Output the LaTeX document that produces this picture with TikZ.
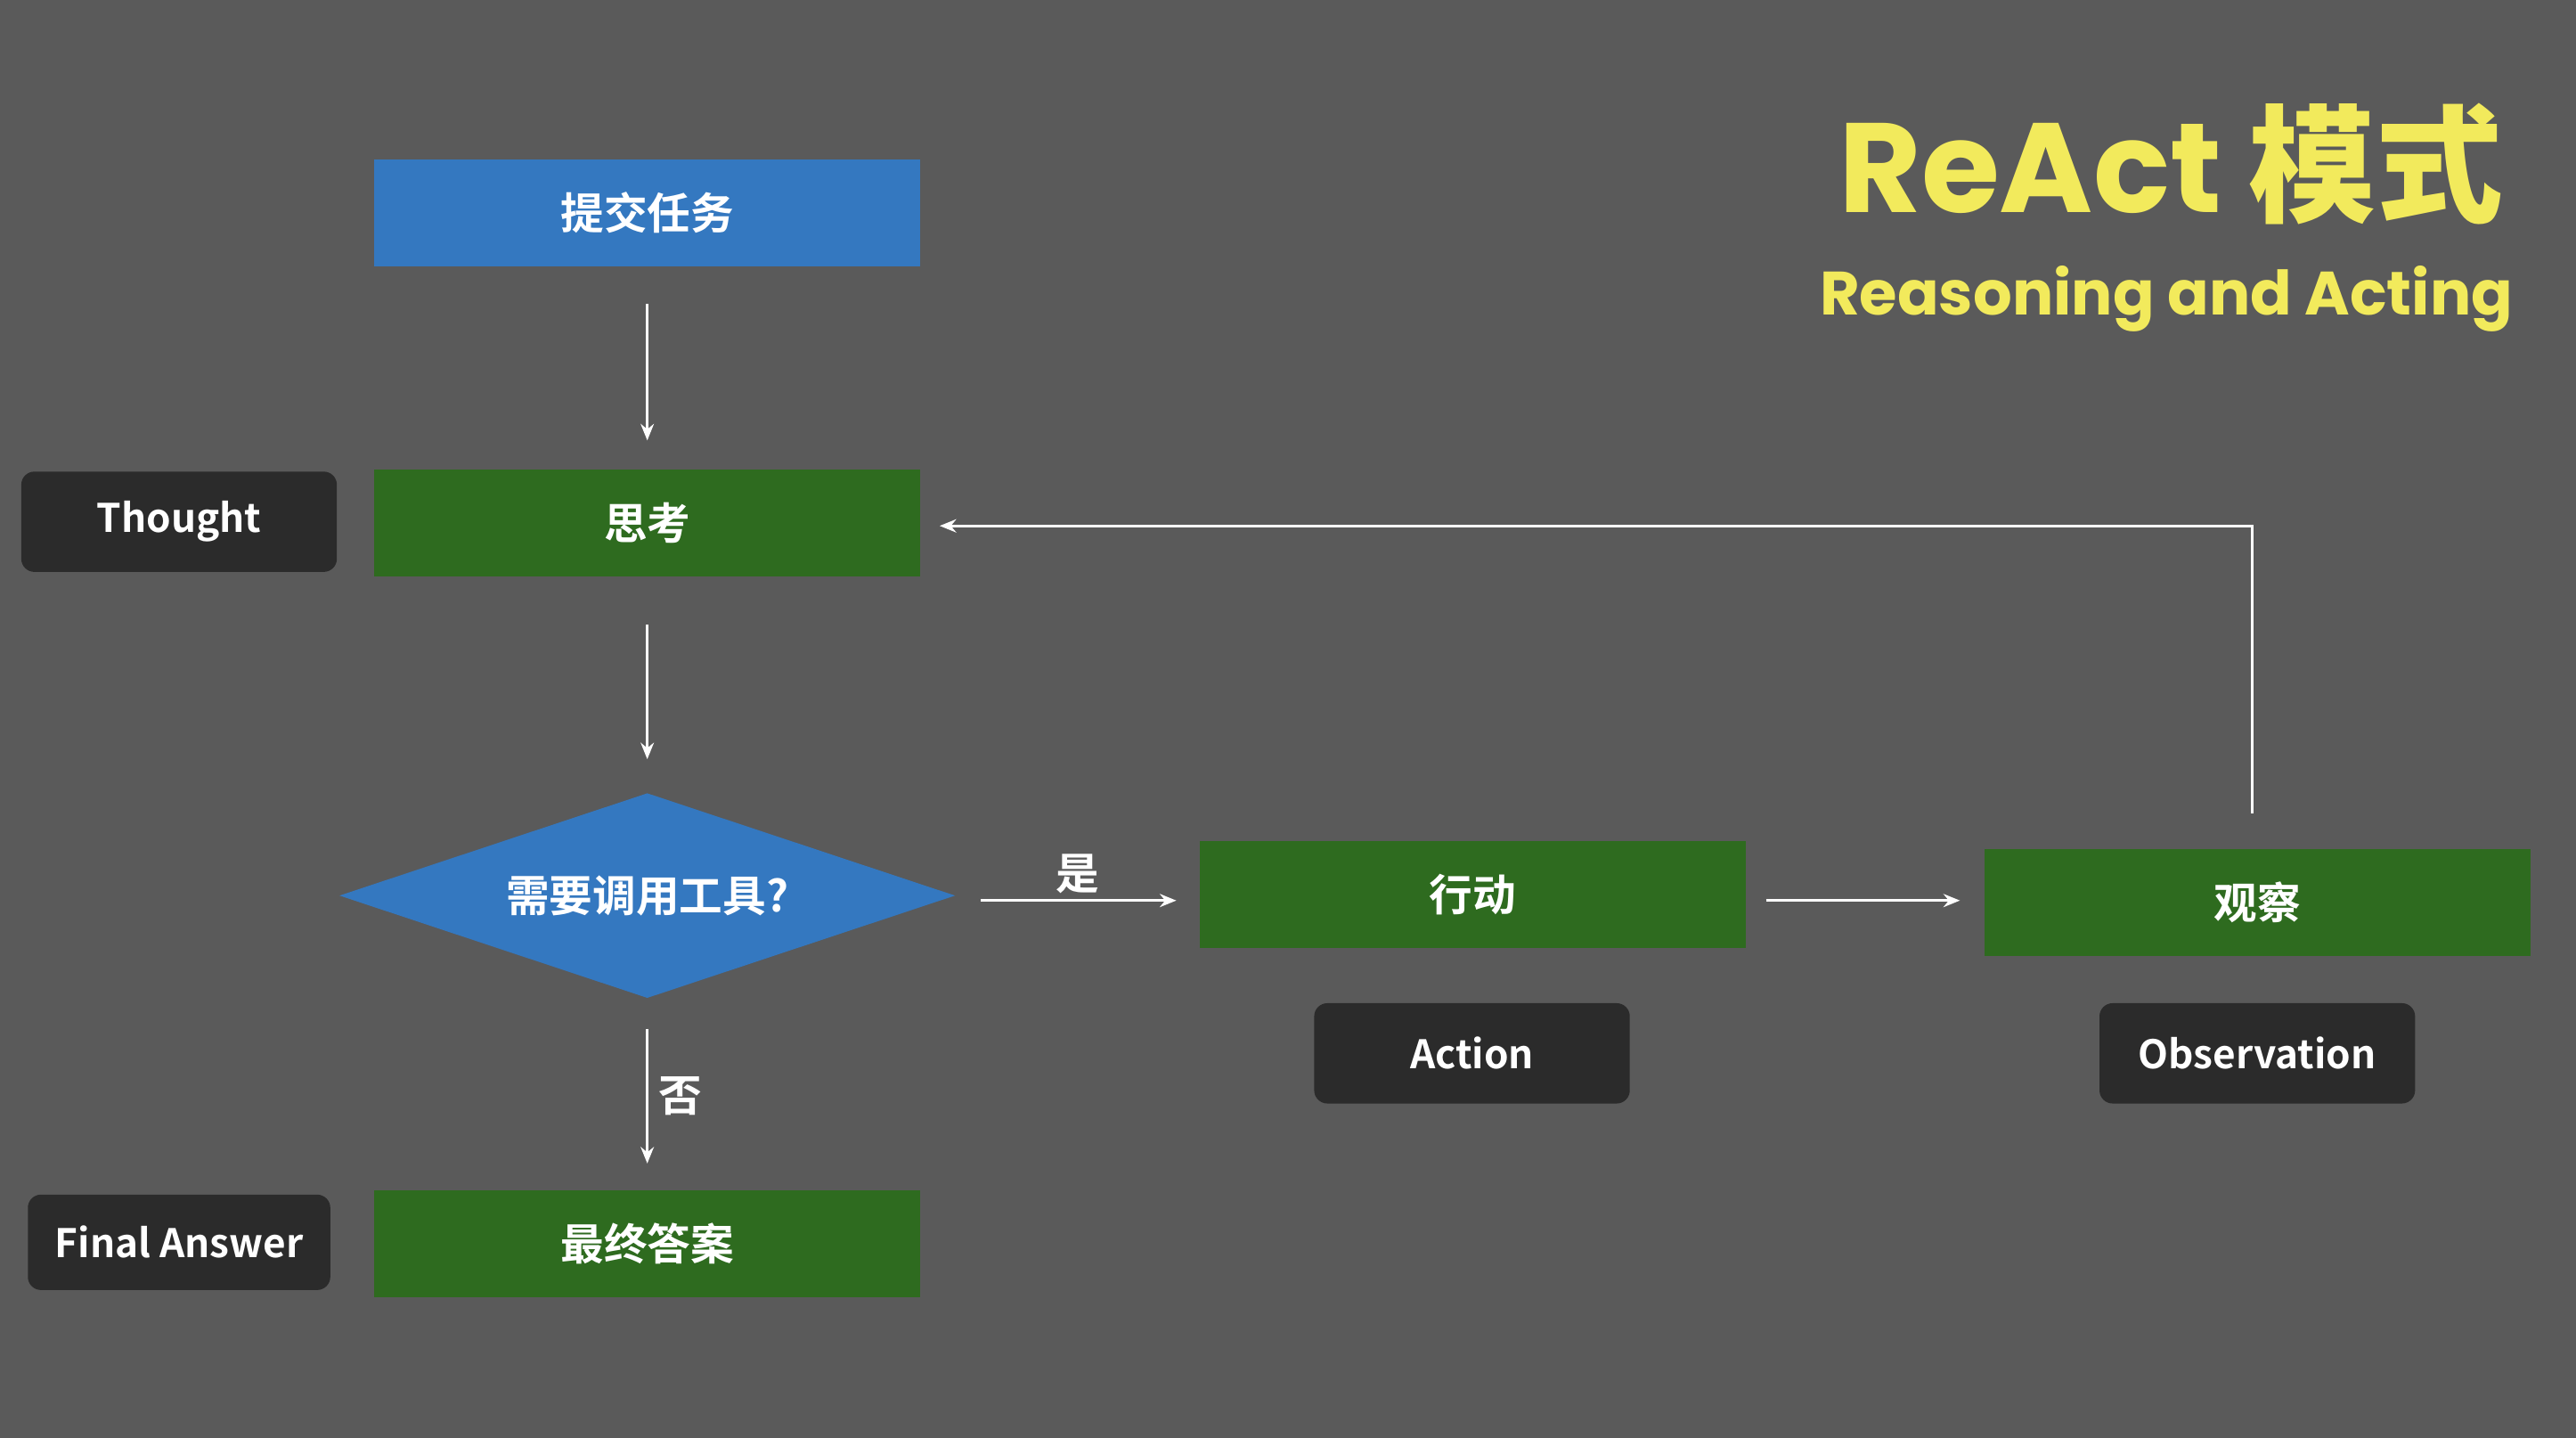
\documentclass[tikz,border=0pt]{standalone}
\usepackage{fontspec}
\setmainfont{Noto Sans CJK SC}[BoldFont={Noto Sans CJK SC Bold}]
\newfontfamily\titlefont{Poppins}[BoldFont={Poppins Bold}]
\usetikzlibrary{shapes.geometric,arrows.meta}
\definecolor{bg}{HTML}{5A5A5A}
\definecolor{bblue}{HTML}{3478C0}
\definecolor{bgreen}{HTML}{2E6B1F}
\definecolor{dark}{HTML}{2B2B2B}
\definecolor{ttl}{HTML}{F2EA5C}
\begin{document}
\begin{tikzpicture}[x=0.01cm,y=-0.01cm,
  box/.style={minimum width=3.32cm,minimum height=0.65cm,inner sep=0pt,text=white,font=\bfseries\fontsize{7.5}{9}\selectfont},
  tag/.style={rounded corners=0.08cm,fill=dark,minimum width=1.92cm,minimum height=0.61cm,inner sep=0pt,text=white,font=\bfseries\fontsize{6.8}{8}\selectfont},
  arr/.style={draw=white,line width=0.5pt,-{Stealth[length=0.1cm,width=0.08cm]}},
  lbl/.style={text=white,font=\bfseries\fontsize{7.5}{9}\selectfont}]
\fill[bg] (0,0) rectangle (1568,875);
\node[anchor=east,text=ttl,font=\titlefont\bfseries\fontsize{22}{26}\selectfont] (t1) at (1536,100) {ReAct \fontspec{Noto Sans CJK SC Bold}模式};
\node[anchor=east,text=ttl,font=\titlefont\bfseries\fontsize{10.6}{13}\selectfont] (t2) at (1542,182) {Reasoning and Acting};
\node[box,fill=bblue] (submit) at (394,129.5) {提交任务};
\node[box,fill=bgreen] (think) at (394,318) {思考};
\node[tag] (thought) at (109,317.5) {Thought};
\node[diamond,fill=bblue,aspect=3,minimum width=3.75cm,minimum height=1.25cm,inner sep=0pt,text=white,font=\bfseries\fontsize{7.5}{9}\selectfont] (dec) at (394,545) {需要调用工具?};
\node[box,fill=bgreen] (act) at (896.5,544.5) {行动};
\node[tag] (action) at (896,641) {Action};
\node[box,fill=bgreen] (obs) at (1374,549) {观察};
\node[tag] (observ) at (1374,641) {Observation};
\node[box,fill=bgreen] (final) at (394,757) {最终答案};
\node[tag,minimum width=1.84cm,minimum height=0.58cm] (fa) at (109,756) {Final Answer};
\coordinate (a1) at (394,185); \coordinate (a2) at (394,268);
\coordinate (b1) at (394,380); \coordinate (b2) at (394,462);
\coordinate (c1) at (597,548); \coordinate (c2) at (716,548);
\coordinate (d1) at (1075,548); \coordinate (d2) at (1193,548);
\coordinate (e1) at (394,626); \coordinate (e2) at (394,708);
\coordinate (f1) at (1371,495); \coordinate (f2) at (1371,320); \coordinate (f3) at (572,320);
\draw[arr] (a1) -- (a2);
\draw[arr] (b1) -- (b2);
\draw[arr] (c1) -- (c2);
\draw[arr] (d1) -- (d2);
\draw[arr] (e1) -- (e2);
\draw[arr] (f1) -- (f2) -- (f3);
\node[lbl] (yes) at (656,532) {是};
\node[lbl] (no) at (414,667) {否};
\end{tikzpicture}
\end{document}
